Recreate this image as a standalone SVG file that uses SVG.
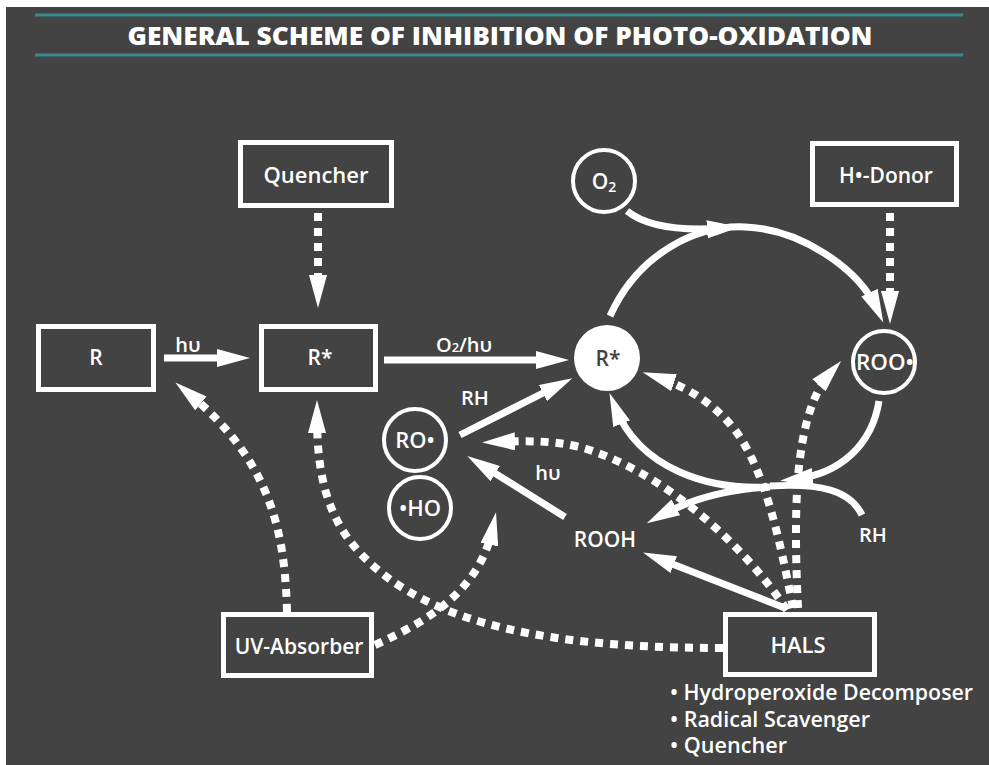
<svg xmlns="http://www.w3.org/2000/svg" width="989" height="765" viewBox="0 0 989 765">
<defs>
<marker id="ah" viewBox="0 0 33 18" refX="18" refY="9" markerWidth="33" markerHeight="18" markerUnits="userSpaceOnUse" orient="auto">
<path d="M0,0 L33,9 L0,18 Z" fill="#ffffff"/>
</marker>
<style>
.t{font-family:"Open Sans","Noto Sans","Liberation Sans",sans-serif;font-weight:600;fill:#ffffff;text-anchor:middle}
.box{fill:none;stroke:#ffffff;stroke-width:5}
.circ{fill:none;stroke:#ffffff;stroke-width:4}
.solid{fill:none;stroke:#ffffff;stroke-width:7}
.dot{fill:none;stroke:#ffffff;stroke-width:8;stroke-dasharray:8 7}
.arr{marker-end:url(#ah)}
.teal{stroke:#3d8b8e;stroke-width:3}
</style>
</defs>
<rect x="0" y="0" width="989" height="765" fill="#ffffff"/>
<rect x="6" y="7" width="983" height="758" fill="#434343"/>
<g id="title">
<line class="teal" x1="35" y1="15" x2="963" y2="15"/>
<line class="teal" x1="35" y1="55" x2="963" y2="55"/>
<text class="t" x="500" y="45" style="font-weight:800;font-size:24px" textLength="745" lengthAdjust="spacingAndGlyphs">GENERAL SCHEME OF INHIBITION OF PHOTO-OXIDATION</text>
</g>
<g id="connectors">
<line class="solid arr" x1="164" y1="358" x2="235" y2="358"/>
<line class="solid arr" x1="384" y1="360" x2="554" y2="360"/>
<line class="dot arr" x1="318" y1="213" x2="318" y2="293"/>
<line class="dot arr" x1="890" y1="213" x2="890" y2="309"/>
<path class="solid arr" d="M610 316 C640 250 700 225 745 227 C800 229 858 268 877 309"/>
<path class="solid arr" d="M627 211 C648 228 685 231 725 228"/>
<path class="solid arr" d="M768 487 C710 490 640 470 615 407"/>
<path class="solid arr" d="M879 401 C872 445 840 474 795 479"/>
<path class="solid" d="M862 515 C850 490 820 483 770 486"/>
<path class="solid arr" d="M770 487 C730 489 695 497 660 516"/>
<line class="solid arr" x1="460" y1="435" x2="559" y2="385"/>
<line class="solid arr" x1="565" y1="517" x2="480" y2="464"/>
<line class="solid arr" x1="785" y1="608" x2="657" y2="558"/>
<path class="dot arr" d="M793 608 C780 540 765 470 735 430 C715 405 690 388 657 377"/>
<path class="dot arr" d="M798 608 C794 520 792 415 831 372"/>
<path class="dot arr" d="M787 610 C740 540 660 470 580 447 C550 440 525 441 497 442"/>
<path class="dot arr" d="M723 648 C560 648 430 628 360 553 C325 515 317 470 317 415"/>
<path class="dot arr" d="M287 612 C285 530 270 460 187 392"/>
<path class="dot arr" d="M375 645 C430 620 480 590 493 527"/>
</g>
<g id="labels">
<text class="t" x="188" y="352" style="font-size:20px">hυ</text>
<text class="t" x="464" y="352" style="font-size:20px">O<tspan style="font-size:13px">2</tspan>/hυ</text>
<text class="t" x="475" y="405" style="font-size:20px">RH</text>
<text class="t" x="548" y="480" style="font-size:20px">hυ</text>
<text class="t" x="873" y="542" style="font-size:20px">RH</text>
</g>
<g id="node-ROOH">
<text class="t" x="605" y="547" style="font-size:21px">ROOH</text>
</g>
<g id="node-R">
<rect class="box" x="38.5" y="326.5" width="115" height="63"/>
<text class="t" x="96" y="365" style="font-size:21px">R</text>
</g>
<g id="node-Rstar-box">
<rect class="box" x="261.5" y="326.5" width="114" height="63"/>
<text class="t" x="320" y="365" style="font-size:21px">R*</text>
</g>
<g id="node-Quencher">
<rect class="box" x="240.5" y="142.5" width="151" height="63"/>
<text class="t" x="316" y="183" style="font-size:22px">Quencher</text>
</g>
<g id="node-HDonor">
<rect class="box" x="812.5" y="143.5" width="144" height="61"/>
<text class="t" x="886" y="183" style="font-size:21px">H•-Donor</text>
</g>
<g id="node-UVAbsorber">
<rect class="box" x="223.5" y="614.5" width="148" height="61"/>
<text class="t" x="299" y="654" style="font-size:21px">UV-Absorber</text>
</g>
<g id="node-HALS">
<rect class="box" x="725.5" y="614.5" width="149" height="60"/>
<text class="t" x="798" y="653" style="font-size:22px">HALS</text>
</g>
<g id="node-O2">
<circle class="circ" cx="604" cy="181" r="31"/>
<text class="t" x="604" y="189" style="font-size:21px">O<tspan style="font-size:14px" dy="3">2</tspan></text>
</g>
<g id="node-Rstar-circle">
<circle cx="607" cy="358" r="33" fill="#ffffff"/>
<text class="t" x="608" y="366" style="font-size:21px;fill:#434343">R*</text>
</g>
<g id="node-ROO">
<circle class="circ" cx="884" cy="362" r="31"/>
<text class="t" x="885" y="370" style="font-size:22px" textLength="58" lengthAdjust="spacingAndGlyphs">ROO•</text>
</g>
<g id="node-RO">
<circle class="circ" cx="415" cy="440" r="31"/>
<text class="t" x="415" y="448" style="font-size:22px">RO•</text>
</g>
<g id="node-HO">
<circle class="circ" cx="420" cy="508" r="31"/>
<text class="t" x="420" y="516" style="font-size:22px">•HO</text>
</g>
<g id="hals-list">
<text class="t" x="670" y="700" style="font-size:21px;text-anchor:start" textLength="303" lengthAdjust="spacingAndGlyphs">• Hydroperoxide Decomposer</text>
<text class="t" x="670" y="727" style="font-size:21px;text-anchor:start" textLength="200" lengthAdjust="spacingAndGlyphs">• Radical Scavenger</text>
<text class="t" x="670" y="753" style="font-size:21px;text-anchor:start" textLength="117" lengthAdjust="spacingAndGlyphs">• Quencher</text>
</g>
</svg>
